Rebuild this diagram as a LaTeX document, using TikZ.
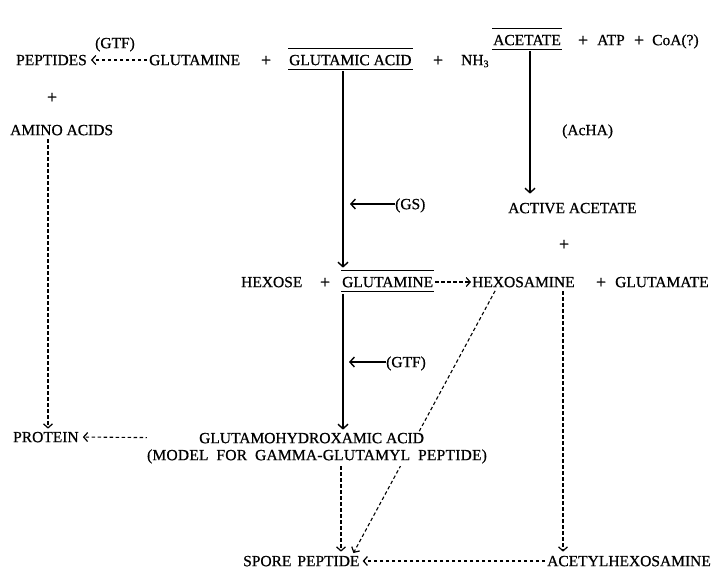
\documentclass[tikz,border=0pt]{standalone}
\usepackage{fontspec}
\setmainfont{Liberation Serif}
\newfontfamily\dgf{Liberation Serif}[FakeBold=0.7]
\usetikzlibrary{arrows.meta}
\pgfdeclarelayer{bg}\pgfdeclarelayer{mid}
\pgfsetlayers{bg,mid,main}
\begin{document}
\begin{tikzpicture}[x=1pt,y=-1pt,
  lab/.style={inner sep=0pt, text height=10.3pt, text depth=0pt, font=\dgf\fontsize{15.5}{18}\selectfont},
  pl/.style={lab, font=\dgf\fontsize{18}{18}\selectfont},
  solidarr/.style={line width=1.2pt, -{Straight Barb[length=4.5pt,width=10pt,line width=1.4pt]}},
  dasharr/.style={line width=1.1pt, dash pattern=on 3.5pt off 2.5pt, -{Straight Barb[length=4pt,width=9pt,line width=1.2pt,sep=0pt]}},
  rule/.style={line width=1.1pt}]
\useasboundingbox (0,0) rectangle (717,582);
\node[lab] (gtfa) at (115,43) {(GTF)};
\node[lab, anchor=west] (pep) at (16,60) {PEPTIDES};
\node[lab, anchor=west] (glm) at (149,60) {GLUTAMINE};
\node[pl] (p1) at (266,61) {+};
\node[lab, anchor=west] (gla) at (289,60) {GLUTAMIC ACID};
\node[pl] (p2) at (438,61) {+};
\node[lab, anchor=west] (nh3) at (461,60) {NH\raisebox{-2pt}{\fontsize{10}{10}\selectfont 3}};
\node[lab, anchor=west] (ace) at (493,40) {ACETATE};
\node[pl] (p3) at (583,41) {+};
\node[lab, anchor=west] (atp) at (597,40) {ATP};
\node[pl] (p4) at (639,41) {+};
\node[lab, anchor=west] (coa) at (652,40) {CoA(?)};
\node[lab, anchor=west] (acha) at (562,130) {(AcHA)};
\node[pl] (p5) at (52,98) {+};
\node[lab, anchor=west] (amino) at (10,130) {AMINO ACIDS};
\node[lab, anchor=west] (gs) at (395,204) {(GS)};
\node[lab, anchor=west] (active) at (508,208) {ACTIVE ACETATE};
\node[pl] (p6) at (564,245) {+};
\node[lab, anchor=west] (hexose) at (241,282) {HEXOSE};
\node[pl] (p7) at (325,283) {+};
\node[lab, anchor=west] (glu2) at (342,282) {GLUTAMINE};
\node[lab, anchor=west] (hexa) at (472,282) {HEXOSAMINE};
\node[pl] (p8) at (601,283) {+};
\node[lab, anchor=west] (glut) at (615,282) {GLUTAMATE};
\node[lab, anchor=west] (gtfb) at (386,362) {(GTF)};
\node[lab, anchor=west] (protein) at (13,437) {PROTEIN};
\node[lab, anchor=west] (ghx) at (199,438) {GLUTAMOHYDROXAMIC ACID};
\node[lab] (model) at (317,455) {\addfontfeature{LetterSpace=1.5}\spaceskip=8pt (MODEL FOR GAMMA-GLUTAMYL PEPTIDE)};
\node[lab, anchor=west] (spore) at (243,561) {\spaceskip=6pt SPORE PEPTIDE};
\node[lab, anchor=west] (acetyl) at (547,561) {ACETYLHEXOSAMINE};
\coordinate (xg) at (343,0);
\coordinate (xg2) at (341,0);
\coordinate (xa) at (48,0);
\coordinate (xh) at (563,0);
\coordinate (xac) at (530,0);
\coordinate (xd1) at (497,0);
\coordinate (xd2) at (352,0);
\coordinate (gsend) at (350,204);
\coordinate (gtfend) at (349,362);
\foreach \n in {gla,ace,glu2} {
  \draw[rule] ([xshift=-1pt,yshift=6pt]\n.north west) -- ([xshift=1pt,yshift=6pt]\n.north east);
  \draw[rule] ([xshift=-1pt,yshift=-4pt]\n.south west) -- ([xshift=1pt,yshift=-4pt]\n.south east);
}
\begin{pgfonlayer}{mid}
\fill[white] ([yshift=1pt]ghx.north east) rectangle ([yshift=-6pt]model.south west);
\end{pgfonlayer}
\begin{pgfonlayer}{bg}
\draw[dasharr, shorten <=2pt, shorten >=4pt] (glm.west) -- (pep.east);
\draw[solidarr, shorten <=6pt, shorten >=9pt] (gla.south -| xg) -- (glu2.north -| xg);
\draw[solidarr] (gs.west) -- (gsend);
\draw[solidarr, shorten <=6pt, shorten >=9pt] (ace.south -| xac) -- (active.north -| xac);
\draw[dasharr, shorten <=2pt, shorten >=1pt] (glu2.east) -- (hexa.west);
\draw[solidarr, shorten <=7pt, shorten >=3pt] (glu2.south -| xg) -- (ghx.north -| xg);
\draw[solidarr] (gtfb.west) -- (gtfend);
\draw[dasharr, shorten <=4pt, shorten >=3pt] (amino.south -| xa) -- (protein.north -| xa);
\draw[dasharr, shorten <=8pt, shorten >=4pt] (ghx.west) -- (protein.east);
\draw[dasharr, shorten <=6pt, shorten >=4pt] (model.south -| xg2) -- (spore.north -| xg2);
\draw[dasharr, shorten <=4pt, shorten >=3pt] (hexa.south -| xd1) -- (spore.north -| xd2);
\draw[dasharr, shorten <=4pt, shorten >=4pt] (hexa.south -| xh) -- (acetyl.north -| xh);
\draw[dasharr, shorten <=2pt, shorten >=3pt] (acetyl.west) -- (spore.east);
\end{pgfonlayer}
\end{tikzpicture}
\end{document}
